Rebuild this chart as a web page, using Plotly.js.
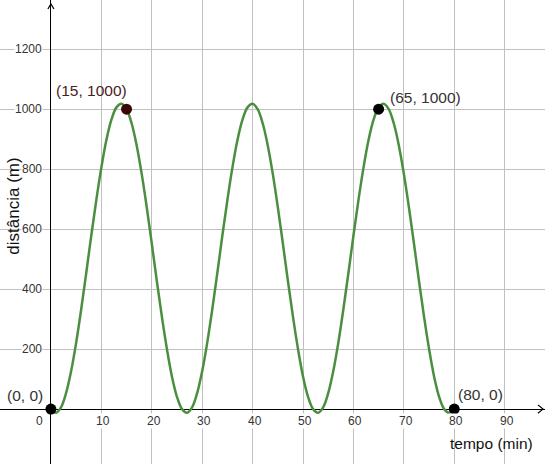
<!DOCTYPE html>
<html>
<head>
<meta charset="utf-8">
<script src="https://cdn.plot.ly/plotly-3.0.1.min.js"></script>
<style>html,body{margin:0;padding:0;background:#fff;}#chart{width:545px;height:464px;}</style>
</head>
<body>
<div id="chart"></div>
<script>
// curve (tempo in min, distância in m)
const tempo = [0,1,2,3,4,5,6,7,8,9,10,11,12,13,14,15,16,17,18,19,20,21,22,23,24,25,
  26,27,28,29,30,31,32,33,34,35,36,37,38,39,40,41,42,43,44,45,46,47,48,49,50,51,
  52,53,54,55,56,57,58,59,60,61,62,63,64,65,66,67,68,69,70,71,72,73,74,75,76,77,
  78,79,80];
const distancia = [0,-12,6,53,126,221,332,453,578,697,805,897,965,1006,1018,1000,953,880,785,674,553,428,309,201,109,41,
  0,-12,6,53,126,221,332,453,578,697,805,897,965,1006,1018,1000,953,880,785,674,553,428,309,201,109,41,
  0,-12,6,53,126,221,332,453,578,697,805,897,965,1006,1018,1000,953,880,785,674,553,428,309,201,109,41,
  0,-12,2];

// marked points
const pontosX = [0, 15, 65, 80];
const pontosY = [0, 1000, 1000, 0];
const pontosRotulo = ["(0, 0)", "(15, 1000)", "(65, 1000)", "(80, 0)"];
const pontosCor = ["#000000", "#3a0808", "#000000", "#000000"];
const rotuloCor = ["#333333", "#4a1c1c", "#333333", "#333333"];
const rotuloDx = [-26, -35, 47, 26];
const rotuloDy = [14, 19, 12, 15];

// tick labels
const xTicks = [10, 20, 30, 40, 50, 60, 70, 80, 90];
const yTicks = [200, 400, 600, 800, 1000, 1200];

const FONT = "Liberation Sans, Arial, sans-serif";
const annotations = [];
xTicks.forEach(v => annotations.push({
  x: v, y: 0, xref: 'x', yref: 'y', text: String(v), showarrow: false,
  xanchor: 'center', yanchor: 'middle', xshift: 2, yshift: -12,
  bgcolor: '#ffffff', borderpad: 0,
  font: {family: FONT, size: 12, color: '#333333'}
}));
annotations.push({
  x: 0, y: 0, xref: 'x', yref: 'y', text: '0', showarrow: false,
  xanchor: 'center', yanchor: 'middle', xshift: -11.5, yshift: -12,
  bgcolor: '#ffffff', borderpad: 0,
  font: {family: FONT, size: 12, color: '#333333'}
});
yTicks.forEach(v => annotations.push({
  x: 0, y: v, xref: 'x', yref: 'y', text: String(v), showarrow: false,
  xanchor: 'right', yanchor: 'middle', xshift: -8,
  bgcolor: '#ffffff', borderpad: 0,
  font: {family: FONT, size: 12, color: '#333333'}
}));
pontosX.forEach((v, i) => annotations.push({
  x: v, y: pontosY[i], xref: 'x', yref: 'y', text: pontosRotulo[i], showarrow: false,
  xanchor: 'center', yanchor: 'middle', xshift: rotuloDx[i], yshift: rotuloDy[i],
  font: {family: FONT, size: 15.5, color: rotuloCor[i]}
}));
annotations.push({
  x: 98, y: 0, xref: 'x', yref: 'y', text: 'tempo (min)', showarrow: false,
  xanchor: 'center', yanchor: 'middle', xshift: -54, yshift: -34,
  font: {family: FONT, size: 15.5, color: '#111111'}
});
annotations.push({
  x: 0, y: 675, xref: 'paper', yref: 'y', text: 'distância (m)', showarrow: false,
  xanchor: 'center', yanchor: 'middle', xshift: 14, textangle: -90,
  font: {family: FONT, size: 17, color: '#111111'}
});

const traces = [
  {x: tempo, y: distancia, mode: 'lines', type: 'scatter', line: {color: '#4a8f3f', width: 2.5, shape: 'spline'}, hoverinfo: 'skip'},
  {x: pontosX, y: pontosY, mode: 'markers', type: 'scatter', marker: {size: 11, color: pontosCor}, hoverinfo: 'skip'}
];

const layout = {
  width: 545, height: 464,
  margin: {l: 0, r: 0, t: 0, b: 0, pad: 0},
  paper_bgcolor: '#ffffff', plot_bgcolor: '#ffffff',
  showlegend: false,
  xaxis: {range: [-10.1, 98], tick0: 0, dtick: 10, showgrid: true, gridcolor: '#c0c0c0', gridwidth: 1,
          zeroline: true, zerolinecolor: '#000000', zerolinewidth: 1, showticklabels: false, ticks: '', showline: false, fixedrange: true},
  yaxis: {range: [-183, 1364], tick0: 0, dtick: 200, showgrid: true, gridcolor: '#c0c0c0', gridwidth: 1,
          zeroline: true, zerolinecolor: '#000000', zerolinewidth: 1, showticklabels: false, ticks: '', showline: false, fixedrange: true},
  annotations: annotations,
  shapes: [
    {type: 'path', xref: 'x', yref: 'y', path: 'M -0.6,1334 L 0,1351 L 0.6,1334', line: {color: '#000000', width: 1.2}},
    {type: 'path', xref: 'x', yref: 'y', path: 'M 96.6,14 L 97.6,0 L 96.6,-14', line: {color: '#000000', width: 1.2}}
  ]
};

Plotly.newPlot('chart', traces, layout, {displayModeBar: false, staticPlot: true});
</script>
</body>
</html>
